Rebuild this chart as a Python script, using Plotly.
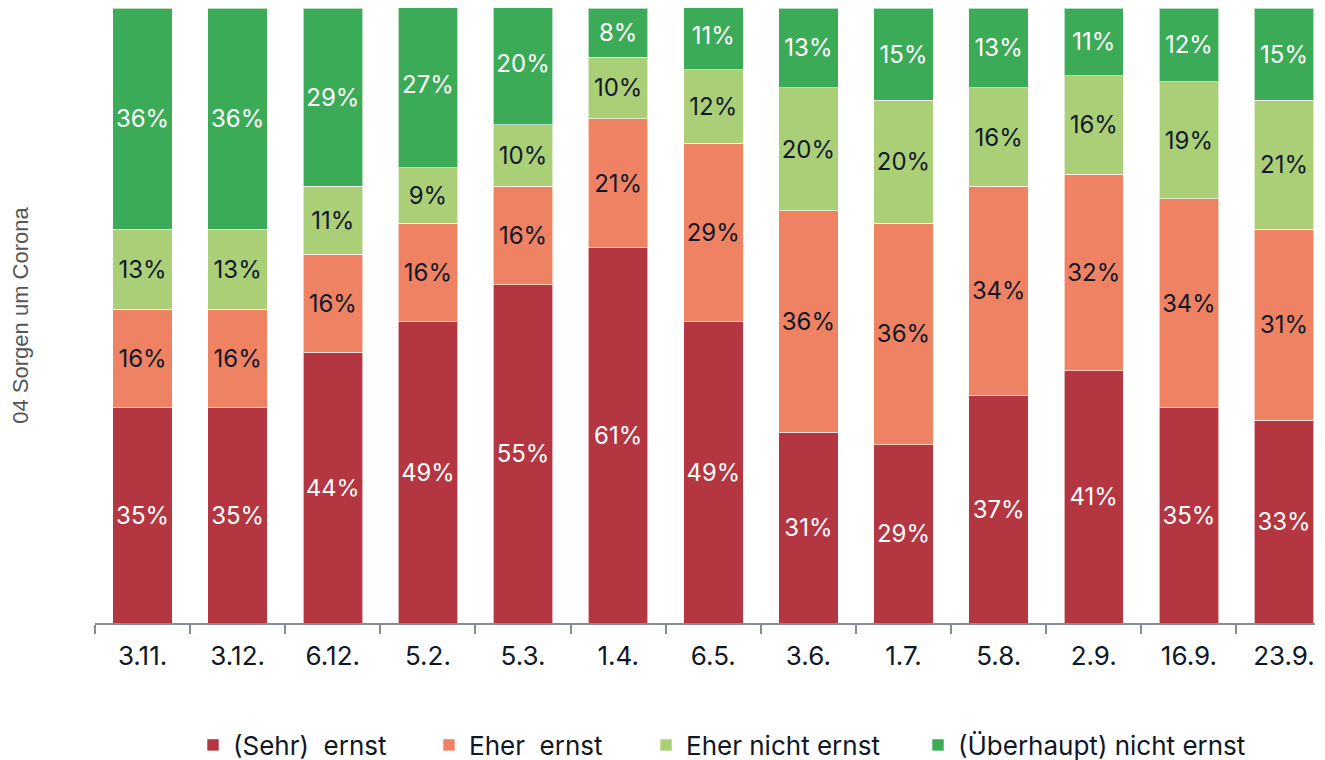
import plotly.graph_objects as go

categories = ["3.11.", "3.12.", "6.12.", "5.2.", "5.3.", "1.4.", "6.5.", "3.6.", "1.7.", "5.8.", "2.9.", "16.9.", "23.9."]
sehr_ernst = [35, 35, 44, 49, 55, 61, 49, 31, 29, 37, 41, 35, 33]
eher_ernst = [16, 16, 16, 16, 16, 21, 29, 36, 36, 34, 32, 34, 31]
eher_nicht_ernst = [13, 13, 11, 9, 10, 10, 12, 20, 20, 16, 16, 19, 21]
ueberhaupt_nicht_ernst = [36, 36, 29, 27, 20, 8, 11, 13, 15, 13, 11, 12, 15]

series = [
    ("(Sehr)  ernst", sehr_ernst, "#B33641", "#FFFFFF", "legend"),
    ("Eher  ernst", eher_ernst, "#EE8262", "#101828", "legend2"),
    ("Eher nicht ernst", eher_nicht_ernst, "#ABCF77", "#101828", "legend3"),
    ("(Überhaupt) nicht ernst", ueberhaupt_nicht_ernst, "#3CAB57", "#FFFFFF", "legend4"),
]

fig = go.Figure()
for name, vals, color, tcolor, leg in series:
    fig.add_trace(go.Bar(
        x=categories, y=vals, name=name,
        marker=dict(color=color, line=dict(color="rgba(255,255,255,0.6)", width=1)),
        width=0.625,
        text=[f"{v}%" for v in vals],
        textposition="inside", insidetextanchor="middle",
        textangle=0,
        textfont=dict(family="Inter", size=24, color=tcolor),
        legend=leg,
    ))

# page body has an 8px margin; figure is shifted by that amount
FW = 1317.0
FH = 760.0
L = 87.0
R = 10.0
pw = FW - L - R

def lx(px_window):
    return (px_window - 8 - L) / pw

def ly(py_window):
    return 1 - (py_window - 8) / FH

leg_common = dict(orientation="h", yref="container", yanchor="middle", y=ly(745),
                  xanchor="left",
                  font=dict(family="Inter", size=26, color="#101828"),
                  bgcolor="rgba(0,0,0,0)", borderwidth=0)

text_starts = [233, 469, 686, 958]
fig.update_layout(
    barmode="stack",
    width=int(FW), height=int(FH),
    margin=dict(l=int(L), r=int(R), t=0, b=145),
    plot_bgcolor="white", paper_bgcolor="white",
    showlegend=True,
    legend=dict(x=lx(text_starts[0] - 40), **leg_common),
    legend2=dict(x=lx(text_starts[1] - 40), **leg_common),
    legend3=dict(x=lx(text_starts[2] - 40), **leg_common),
    legend4=dict(x=lx(text_starts[3] - 40), **leg_common),
    uniformtext=dict(mode=False),
)

fig.update_xaxes(
    type="category",
    range=[-0.5, 12.326],
    showline=True, linecolor="#868A95", linewidth=1.5,
    ticks="outside", tickson="boundaries", ticklen=9, tickcolor="#868A95", tickwidth=1.5,
    tickfont=dict(family="Inter", size=26, color="#101828"),
    ticklabelstandoff=9,
    showgrid=False,
)
fig.update_yaxes(
    range=[0, 100],
    showticklabels=False, showgrid=False, zeroline=False, showline=False,
    title=dict(text="04 Sorgen um Corona", standoff=70,
               font=dict(family="Liberation Sans, Arial", size=22, color="#555555")),
)

fig.write_html("out.html")
